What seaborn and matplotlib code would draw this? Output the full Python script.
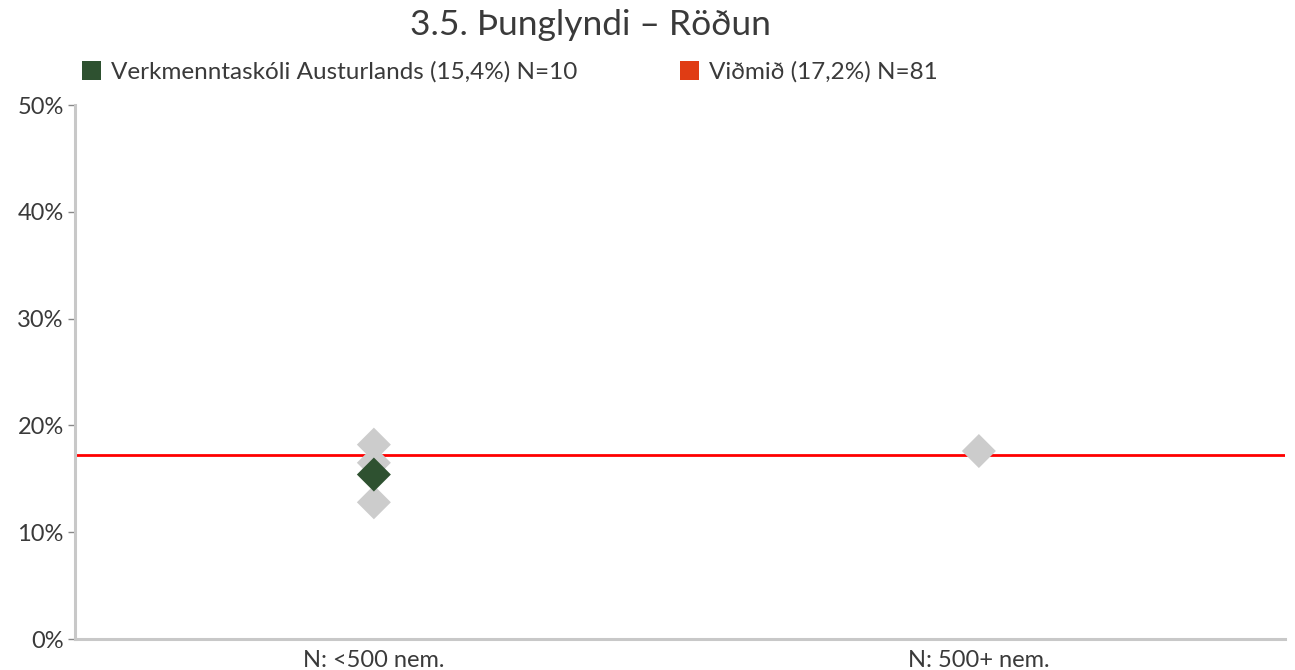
import matplotlib
matplotlib.use("Agg")
import matplotlib.pyplot as plt
from matplotlib.patches import Patch
import seaborn as sns
import pandas as pd

# Data
categories = ["N: <500 nem.", "N: 500+ nem."]
other_schools_cat = ["N: <500 nem.", "N: <500 nem.", "N: <500 nem.", "N: 500+ nem."]
other_schools_val = [18.2, 16.5, 12.8, 17.6]
school_cat = ["N: <500 nem."]
school_val = [15.4]
benchmark = 17.2
yticks = [0, 10, 20, 30, 40, 50]
title = "3.5. Þunglyndi – Röðun"
school_label = "Verkmenntaskóli Austurlands (15,4%) N=10"
bench_label = "Viðmið (17,2%) N=81"

sns.set_theme(style="white")
plt.rcParams["font.family"] = ["Lato", "DejaVu Sans"]

fig = plt.figure(figsize=(12.95, 6.70), dpi=100)
ax = fig.add_axes([75 / 1295, 1 - 639 / 670, 1210 / 1295, 534 / 670])

others = pd.DataFrame({"cat": other_schools_cat, "val": other_schools_val})
school = pd.DataFrame({"cat": school_cat, "val": school_val})

ax.axhline(benchmark, color="#ff0000", lw=2.0, zorder=1)
sns.scatterplot(data=others, x="cat", y="val", marker="D", s=300, color="#cccccc",
                edgecolor="none", ax=ax, zorder=2, legend=False)
sns.scatterplot(data=school, x="cat", y="val", marker="D", s=300, color="#2e5130",
                edgecolor="none", ax=ax, zorder=3, legend=False)

ax.set_xlim(-0.494, 1.506)
ax.set_ylim(0, 50)
ax.set_xticks(range(len(categories)))
ax.set_xticklabels(categories)
ax.set_yticks(yticks)
ax.set_yticklabels([f"{t}%" for t in yticks])
ax.set_xlabel("")
ax.set_ylabel("")

for side in ["top", "right"]:
    ax.spines[side].set_visible(False)
for side in ["left", "bottom"]:
    ax.spines[side].set_color("#c8c8c8")
    ax.spines[side].set_linewidth(2.2)

text_color = "#3a3a3a"
ax.tick_params(axis="y", left=True, length=5, width=1, color="#888888",
               labelsize=17, labelcolor=text_color, pad=3)
ax.tick_params(axis="x", bottom=False, labelsize=17, labelcolor=text_color, pad=2)

fig.text(590 / 1295, 1 - 25 / 670, title, ha="center", va="center",
         fontsize=25.5, color=text_color)

handles = [Patch(facecolor="#2e5130", edgecolor="none", label=school_label),
           Patch(facecolor="#e03c14", edgecolor="none", label=bench_label)]
fig.legend(handles=handles, loc="center left", bbox_to_anchor=(60 / 1295, 1 - 72 / 670),
           ncol=2, frameon=False, fontsize=17.5, handlelength=0.8, handleheight=0.8,
           handletextpad=0.4, columnspacing=4.2, labelcolor=text_color)

fig.savefig("out.png", dpi=100)
